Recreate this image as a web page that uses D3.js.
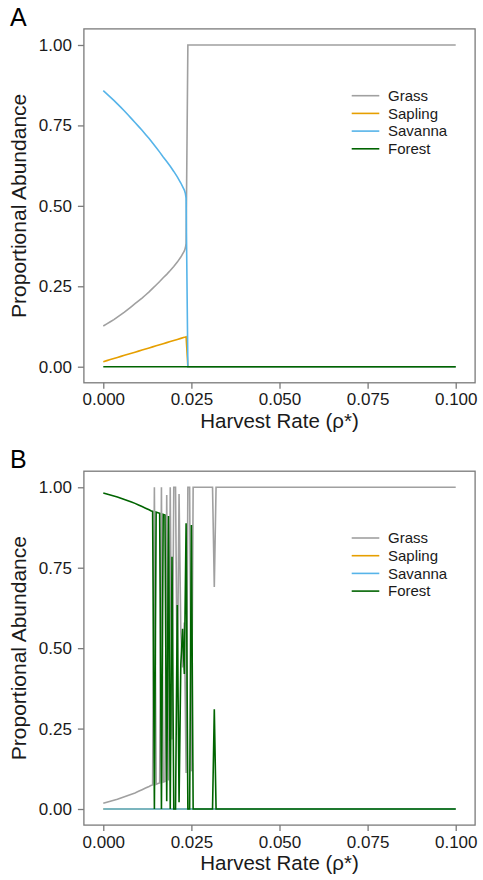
<!DOCTYPE html>
<html>
<head>
<meta charset="utf-8">
<script src="https://cdn.jsdelivr.net/npm/d3@7"></script>
<style>
  html, body { margin: 0; padding: 0; background: #ffffff; }
  svg { display: block; font-family: "Liberation Sans", Arial, Helvetica, sans-serif; }
</style>
</head>
<body>
<svg id="chart" width="483" height="880"></svg>
<script>
// ---- data -------------------------------------------------------------
const seriesNames = ["Grass", "Sapling", "Savanna", "Forest"];
const seriesColors = ["#a0a0a0", "#E69F00", "#56B4E9", "#006400"];

const xTicks = [0, 0.025, 0.05, 0.075, 0.1];
const yTicks = [0, 0.25, 0.5, 0.75, 1];

// Panel A: deterministic model
const harvestA = [0, 0.001, 0.002, 0.003, 0.004, 0.005, 0.006, 0.007, 0.008, 0.009,
  0.010, 0.011, 0.012, 0.013, 0.014, 0.015, 0.016, 0.017, 0.018, 0.019,
  0.020, 0.021, 0.022, 0.023, 0.0233, 0.0235, 0.024, 0.1];
const grassA = [0.1264, 0.1331, 0.1398, 0.1465, 0.1542, 0.1619, 0.1696, 0.1783, 0.1870, 0.1958,
  0.2045, 0.2132, 0.2229, 0.2326, 0.2433, 0.2540, 0.2647, 0.2764, 0.2871, 0.2988,
  0.3115, 0.3252, 0.3409, 0.3596, 0.3697, 0.383, 1, 1];
const saplingA = [0.0156, 0.0189, 0.0222, 0.0255, 0.0288, 0.0321, 0.0354, 0.0387, 0.0420, 0.0452,
  0.0485, 0.0518, 0.0551, 0.0584, 0.0617, 0.0650, 0.0683, 0.0716, 0.0749, 0.0782,
  0.0815, 0.0848, 0.0881, 0.0914, 0.0923, 0.093, 0, 0];
const savannaA = [0.858, 0.848, 0.838, 0.828, 0.817, 0.806, 0.795, 0.783, 0.771, 0.759,
  0.747, 0.735, 0.722, 0.709, 0.695, 0.681, 0.667, 0.652, 0.638, 0.623,
  0.607, 0.590, 0.571, 0.549, 0.538, 0.524, 0, 0];
const forestA = [0, 0, 0, 0, 0, 0, 0, 0, 0, 0,
  0, 0, 0, 0, 0, 0, 0, 0, 0, 0,
  0, 0, 0, 0, 0, 0, 0, 0];

// Panel B: model with stochastic fire
const harvestB = [0, 0.001, 0.002, 0.003, 0.004, 0.005, 0.006, 0.007, 0.008, 0.009,
  0.010, 0.011, 0.012, 0.013, 0.0135, 0.014, 0.0145, 0.015, 0.0155, 0.016,
  0.0165, 0.017, 0.0175, 0.018, 0.0185, 0.019, 0.0195, 0.020, 0.0205, 0.021,
  0.0215, 0.022, 0.0225, 0.023, 0.0235, 0.024, 0.0245, 0.025, 0.0255, 0.031,
  0.0315, 0.032, 0.1];
const grassB = [0.018, 0.021, 0.024, 0.027, 0.030, 0.034, 0.038, 0.042, 0.046, 0.050,
  0.055, 0.060, 0.065, 0.070, 0.073, 0.075, 1, 0.077, 0.079, 0.081,
  1, 0.084, 0.086, 0.976, 0.089, 1, 0.216, 1, 1, 0.366,
  0.979, 0.55, 0.44, 0.58, 0.112, 1, 1, 0.117, 1, 1,
  0.69, 1, 1];
const forestB = [0.982, 0.979, 0.976, 0.973, 0.970, 0.966, 0.962, 0.958, 0.954, 0.950,
  0.945, 0.940, 0.935, 0.930, 0.927, 0.925, 0, 0.923, 0.921, 0.919,
  0, 0.916, 0.914, 0.024, 0.911, 0, 0.784, 0, 0, 0.634,
  0.021, 0.45, 0.56, 0.42, 0.888, 0, 0, 0.883, 0, 0,
  0.31, 0, 0];
const harvestSpanB = [0, 0.1];
const saplingB = [0, 0];
const savannaB = [0, 0];

// ---- layout -----------------------------------------------------------
const plotLeft = 83.9, plotRight = 475.1, plotHeight = 353.9;
const panels = [
  { letter: "A", top: 28.9,
    series: [[harvestA, grassA], [harvestA, saplingA], [harvestA, savannaA], [harvestA, forestA]] },
  { letter: "B", top: 471.2,
    series: [[harvestB, grassB], [harvestSpanB, saplingB], [harvestSpanB, savannaB], [harvestB, forestB]] }
];

const svg = d3.select("#chart");
const axisGray = "#7a7a7a";
const textColor = "#1a1a1a";

const x = d3.scaleLinear().domain([-0.0055, 0.1055]).range([plotLeft, plotRight]);

panels.forEach(p => {
  const bottom = p.top + plotHeight;
  const y = d3.scaleLinear().domain([-0.05, 1.05]).range([bottom, p.top]);
  const g = svg.append("g");

  // panel letter
  g.append("text")
    .attr("x", 10).attr("y", p.top - 3)
    .attr("font-size", 25).attr("fill", "#000")
    .text(p.letter);

  // one line per cover type, drawn in legend order
  const line = d3.line().x(d => x(d[0])).y(d => y(d[1]));
  p.series.forEach((s, i) => {
    const pts = s[0].map((h, j) => [h, s[1][j]]);
    g.append("path")
      .datum(pts)
      .attr("d", line)
      .attr("fill", "none")
      .attr("stroke", seriesColors[i])
      .attr("stroke-width", 1.6)
      .attr("stroke-linejoin", "miter");
  });

  // panel border
  g.append("rect")
    .attr("x", plotLeft).attr("y", p.top)
    .attr("width", plotRight - plotLeft).attr("height", plotHeight)
    .attr("fill", "none").attr("stroke", axisGray).attr("stroke-width", 1.3);

  // axes
  const yAxis = g.append("g")
    .attr("transform", `translate(${plotLeft},0)`)
    .call(d3.axisLeft(y).tickValues(yTicks).tickSize(6).tickPadding(6).tickFormat(d3.format(".2f")));
  const xAxis = g.append("g")
    .attr("transform", `translate(0,${bottom})`)
    .call(d3.axisBottom(x).tickValues(xTicks).tickSize(6).tickPadding(4.5).tickFormat(d3.format(".3f")));
  [yAxis, xAxis].forEach(a => {
    a.select(".domain").remove();
    a.selectAll(".tick line").attr("stroke", axisGray).attr("stroke-width", 1.3);
    a.selectAll(".tick text").attr("fill", textColor).attr("font-size", 17)
      .attr("font-family", "'Liberation Sans', Arial, Helvetica, sans-serif");
  });

  // axis titles
  g.append("text")
    .attr("x", (plotLeft + plotRight) / 2).attr("y", bottom + 45)
    .attr("text-anchor", "middle").attr("font-size", 20.5).attr("fill", textColor)
    .text("Harvest Rate (\u03C1*)");
  g.append("text")
    .attr("transform", `translate(25.5,${p.top + plotHeight / 2}) rotate(-90)`)
    .attr("text-anchor", "middle").attr("font-size", 21).attr("fill", textColor)
    .text("Proportional Abundance");

  // legend
  const legend = g.append("g").attr("transform", `translate(351.7,${p.top + 66.8})`);
  seriesNames.forEach((name, i) => {
    const row = legend.append("g").attr("transform", `translate(0,${i * 17.7})`);
    row.append("line")
      .attr("x1", 0).attr("x2", 27.6).attr("y1", 0).attr("y2", 0)
      .attr("stroke", seriesColors[i]).attr("stroke-width", 1.6);
    row.append("text")
      .attr("x", 36.3).attr("y", 0).attr("dy", "0.35em")
      .attr("font-size", 15).attr("fill", textColor)
      .text(name);
  });
});
</script>
</body>
</html>
